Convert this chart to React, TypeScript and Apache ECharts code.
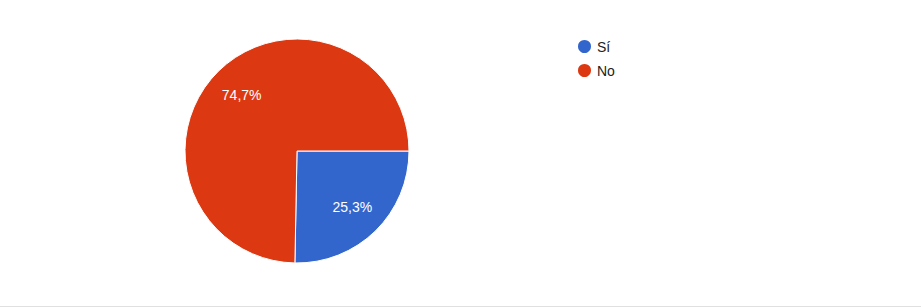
import React, { useEffect, useRef } from "react";
import * as echarts from "echarts";

const categories = ["Sí", "No"];
const values = [25.3, 74.7];
const colors = ["#3366cc", "#dc3912"];

const fmtPercent = (p: any) => p.percent.toFixed(1).replace(".", ",") + "%";

export default function App() {
  const ref = useRef<HTMLDivElement>(null);

  useEffect(() => {
    document.body.style.margin = "0";
    const chart = echarts.init(ref.current!, null, { renderer: "svg" });
    const data = categories.map((name, i) => ({
      name,
      value: values[i],
      itemStyle: { color: colors[i] },
    }));
    chart.setOption({
      animation: false,
      backgroundColor: "#ffffff",
      textStyle: { fontFamily: "Liberation Sans, Arial, sans-serif" },
      legend: {
        orient: "vertical",
        left: 576,
        top: 38,
        padding: 0,
        icon: "circle",
        itemWidth: 15,
        itemHeight: 15,
        itemGap: 7,
        data: categories,
        textStyle: { fontSize: 14, lineHeight: 15, color: "#222222" },
      },
      graphic: [
        {
          type: "rect",
          shape: { x: 0, y: 306, width: 921, height: 1 },
          style: { fill: "#e0e0e0" },
          silent: true,
        },
      ],
      series: [
        {
          type: "pie",
          center: [297, 151],
          radius: [0, 112],
          startAngle: 0,
          clockwise: true,
          label: { show: false },
          labelLine: { show: false },
          itemStyle: { borderColor: "#ffffff", borderWidth: 1 },
          emphasis: { disabled: true },
          data,
        },
        {
          // transparent ring used only to place the percentage labels
          type: "pie",
          center: [297, 151],
          radius: [40, 112],
          startAngle: 0,
          clockwise: true,
          silent: true,
          legendHoverLink: false,
          itemStyle: { color: "transparent", borderWidth: 0 },
          label: {
            show: true,
            position: "inside",
            formatter: fmtPercent,
            color: "#ffffff",
            fontSize: 14,
            fontFamily: "Liberation Sans, Arial, sans-serif",
          },
          labelLine: { show: false },
          emphasis: { disabled: true },
          data: categories.map((name, i) => ({ name: name + " ", value: values[i] })),
        },
      ],
    });
    return () => chart.dispose();
  }, []);

  return <div ref={ref} style={{ width: 921, height: 307 }} />;
}
